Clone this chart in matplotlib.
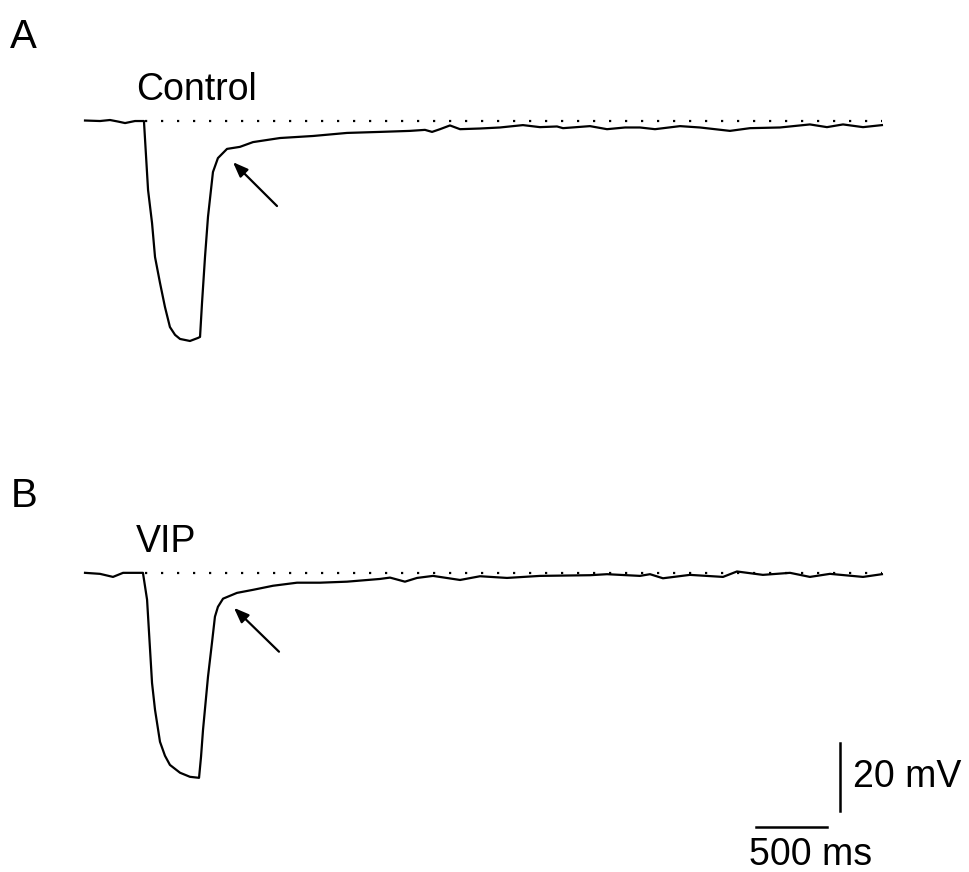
import matplotlib
matplotlib.use("Agg")
import matplotlib.pyplot as plt

plt.rcParams['font.family'] = ['Liberation Sans', 'DejaVu Sans']

# trace A (Control): time in ms, potential in mV relative to rest
t_ctrl = [-14, 91.5, 162, 218, 268, 303, 338, 401, 430, 458, 479, 514, 549, 584,
          620, 655, 725, 782, 796, 810, 831, 852, 887, 922, 986, 1077, 1169, 1359,
          1592, 1831, 2063, 2134, 2275, 2380, 2430, 2486, 2556, 2627, 2768, 2908,
          3070, 3190, 3310, 3352, 3542, 3662, 3789, 3894, 4000, 4176, 4317, 4528,
          4669, 4880, 5091, 5211, 5324, 5465, 5598]
v_ctrl = [0.15, 0.0, 0.3, -0.15, -0.6, -0.3, 0.0, 0.0, -20.3, -30.0, -40.0, -47.6,
          -54.7, -60.6, -62.9, -64.1, -64.7, -63.8, -63.5, -53.5, -40.0, -28.2,
          -15.0, -10.9, -8.2, -7.6, -6.2, -5.0, -4.4, -3.5, -3.2, -3.1, -2.9, -2.6,
          -3.2, -2.4, -1.3, -2.4, -2.2, -1.9, -1.2, -1.8, -1.6, -2.1, -1.5, -2.4,
          -1.9, -1.9, -2.4, -1.5, -1.9, -2.9, -2.1, -1.9, -1.0, -1.8, -1.0, -1.8,
          -1.2]

# trace B (VIP)
t_vip = [-14, 91.5, 183, 254, 394, 423, 444, 458, 479, 514, 549, 584, 655, 725,
         789, 803, 817, 852, 880, 901, 922, 958, 1056, 1169, 1310, 1479, 1641, 1831,
         2063, 2134, 2239, 2324, 2437, 2627, 2768, 2958, 3190, 3542, 3662, 3894,
         3965, 4056, 4246, 4479, 4577, 4760, 4951, 5091, 5232, 5465, 5598]
v_vip = [0.0, -0.3, -1.2, 0.0, 0.0, -7.9, -22.6, -32.4, -40.3, -49.7, -53.8, -56.5,
         -58.8, -60.0, -60.3, -54.1, -46.2, -30.6, -20.6, -12.9, -10.0, -7.6, -5.9,
         -5.0, -3.8, -2.9, -2.9, -2.6, -1.8, -1.4, -2.6, -1.5, -0.9, -2.1, -1.0,
         -1.5, -0.9, -0.7, -0.4, -0.9, -0.4, -1.6, -0.6, -1.2, 0.4, -0.6, 0.0, -1.2,
         -0.3, -1.2, -0.4]

labels = ["Control", "VIP"]
panels = ["A", "B"]
bar_ms = 500
bar_mv = 20

fig = plt.figure(figsize=(9.69, 8.72), dpi=100)
ax = fig.add_axes([0, 0, 1, 1])
ax.set_xlim(-612.7, 6211.3)
ax.set_ylim(-220.9, 35.6)
ax.axis('off')

offset_b = -132.9
lw = 1.6

# traces
ax.plot(t_ctrl, v_ctrl, color='black', lw=lw)
ax.plot(t_vip, [v + offset_b for v in v_vip], color='black', lw=lw)

# dotted baselines
for off in (0, offset_b):
    ax.plot([408, 5597], [off, off], color='black', lw=1.6,
            linestyle=(0, (1, 6.2)))

# arrows to the afterhyperpolarisation
arrow_kw = dict(arrowstyle='-|>,head_length=0.9,head_width=0.35', color='black',
                lw=1.6, shrinkA=0, shrinkB=0)
ax.annotate("", xy=(1028, -12.1), xytext=(1338, -25.0), arrowprops=arrow_kw)
ax.annotate("", xy=(1035, -10.3 + offset_b), xytext=(1352, -23.2 + offset_b),
            arrowprops=arrow_kw)

# scale bars
ax.plot([4711, 4711 + bar_ms], [-207.6, -207.6], color='black', lw=1.8)
ax.plot([5303, 5303], [-182.9, -182.9 - bar_mv], color='black', lw=1.8)

W, H = 969, 872
def fx(x):
    return x / W
def fy(y):
    return 1 - y / H

fig.text(fx(10), fy(48), panels[0], fontsize=29, va='baseline')
fig.text(fx(11), fy(507), panels[1], fontsize=29, va='baseline')
fig.text(fx(136), fy(100), labels[0], fontsize=27, va='baseline')
fig.text(fx(136), fy(552), labels[1], fontsize=27, va='baseline')
fig.text(fx(853), fy(787), f"{bar_mv} mV", fontsize=27, va='baseline')
fig.text(fx(749), fy(865), f"{bar_ms} ms", fontsize=27, va='baseline')

fig.savefig("out.png", dpi=100, facecolor='white')
